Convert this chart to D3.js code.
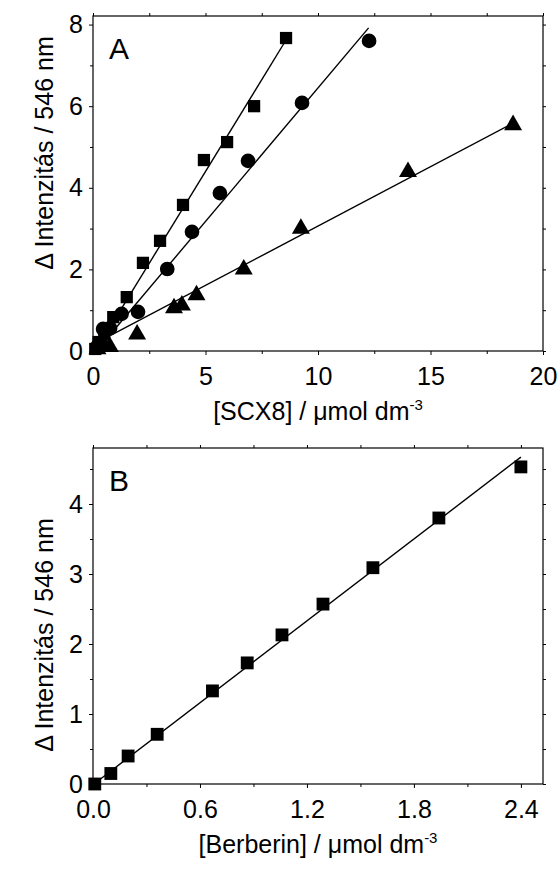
<!DOCTYPE html>
<html>
<head>
<meta charset="utf-8">
<script src="https://cdn.jsdelivr.net/npm/d3@7"></script>
<style>
  body { margin: 0; background: #fff; }
  svg { display: block; }
  text { font-family: "Liberation Sans", Arial, sans-serif; fill: #000; }
</style>
</head>
<body>
<svg id="chart" width="559" height="869"></svg>
<script>
// ---------- Data ----------
// Panel A: [SCX8] (µmol dm^-3) vs Δ Intenzitás
const squaresA = [[0.1,0.05],[0.25,0.22],[0.5,0.42],[0.9,0.83],[1.5,1.32],[2.22,2.16],[2.98,2.70],[4.0,3.58],[4.93,4.68],[5.96,5.12],[7.16,6.0],[8.58,7.67]];
const circlesA = [[0.2,0.12],[0.45,0.54],[0.76,0.56],[1.27,0.91],[2.0,0.96],[3.3,2.01],[4.4,2.92],[5.64,3.87],[6.89,4.66],[9.29,6.08],[12.27,7.6]];
const trianglesA = [[0.2,0.05],[0.5,0.15],[0.75,0.1],[1.96,0.41],[3.6,1.05],[3.95,1.12],[4.6,1.37],[6.7,2.0],[9.24,3.0],[14.0,4.39],[18.67,5.54]];
const fitSquaresA = [[0.1,-0.01],[8.6,7.64]];
const fitCirclesA = [[0.15,0.0],[12.25,7.92]];
const fitTrianglesA = [[0.3,0.24],[18.76,5.61]];
// Panel B: [Berberin] (µmol dm^-3) vs Δ Intenzitás
const squaresB = [[0.01,0.0],[0.1,0.15],[0.197,0.40],[0.36,0.71],[0.67,1.33],[0.865,1.73],[1.06,2.13],[1.29,2.57],[1.57,3.09],[1.94,3.80],[2.40,4.53]];
const fitSquaresB = [[0.0,-0.01],[2.40,4.67]];
// Ticks
const xTicksA = [0,5,10,15,20];
const xMinorA = [2.5,7.5,12.5,17.5];
const yTicksA = [0,2,4,6,8];
const yMinorA = [1,3,5,7];
const xTicksB = [0.0,0.6,1.2,1.8,2.4];
const xMinorB = [0.3,0.9,1.5,2.1];
const yTicksB = [0,1,2,3,4];
const yMinorB = [0.5,1.5,2.5,3.5,4.5];

// ---------- Drawing ----------
const svg = d3.select("#chart");
const left = 93, right = 543;

function panel(cfg) {
  const x = d3.scaleLinear().domain(cfg.xDomain).range([left, right]);
  const y = d3.scaleLinear().domain(cfg.yDomain).range([cfg.bottom, cfg.top]);
  const g = svg.append("g");
  const ht = cfg.bottom - cfg.top, wd = right - left;

  // Axes (bottom with labels)
  const fmtX = cfg.xFmt;
  g.append("g").attr("transform", `translate(0,${cfg.bottom})`)
    .call(d3.axisBottom(x).tickValues(cfg.xTicks).tickFormat(fmtX).tickSize(4).tickPadding(12));
  g.append("g").attr("transform", `translate(0,${cfg.bottom})`)
    .call(d3.axisBottom(x).tickValues(cfg.xMinor).tickFormat("").tickSize(3));
  g.append("g").attr("transform", `translate(0,${cfg.top})`)
    .call(d3.axisTop(x).tickValues(cfg.xTicks.concat(cfg.xMinor)).tickFormat("").tickSize(3));
  g.append("g").attr("transform", `translate(${left},0)`)
    .call(d3.axisLeft(y).tickValues(cfg.yTicks).tickFormat(d3.format("d")).tickSize(4).tickPadding(6));
  g.append("g").attr("transform", `translate(${left},0)`)
    .call(d3.axisLeft(y).tickValues(cfg.yMinor).tickFormat("").tickSize(3));
  g.append("g").attr("transform", `translate(${right},0)`)
    .call(d3.axisRight(y).tickValues(cfg.yTicks.concat(cfg.yMinor)).tickFormat("").tickSize(3));

  g.selectAll(".domain").remove();
  g.selectAll(".tick line").attr("stroke", "#000").attr("stroke-width", 1);
  g.selectAll(".tick text").attr("font-size", 25).attr("font-family", "Liberation Sans, Arial, sans-serif").attr("fill", "#000");

  // frame
  g.append("rect").attr("x", left).attr("y", cfg.top).attr("width", wd).attr("height", ht)
    .attr("fill", "none").attr("stroke", "#000").attr("stroke-width", 1.2);

  // fit lines
  const line = d3.line().x(d => x(d[0])).y(d => y(d[1]));
  cfg.fits.forEach(f => {
    g.append("path").attr("d", line(f)).attr("fill", "none").attr("stroke", "#000").attr("stroke-width", 1.4);
  });

  // markers
  cfg.series.forEach(s => {
    const sym = d3.symbol().type(s.type).size(s.size);
    g.selectAll(null).data(s.data).enter().append("path")
      .attr("d", sym)
      .attr("transform", d => `translate(${x(d[0])},${y(d[1]) + (s.dy || 0)})`)
      .attr("fill", "#000");
  });

  // panel letter
  g.append("text").attr("x", 109).attr("y", cfg.top + cfg.letterDy).attr("font-size", 30).text(cfg.letter);

  // x title
  const xt = g.append("text").attr("x", 318).attr("y", cfg.bottom + 69).attr("text-anchor", "middle").attr("font-size", 25);
  xt.append("tspan").text(cfg.xTitle + " / \u03bcmol dm");
  xt.append("tspan").attr("dy", -10).attr("font-size", 15).text("-3");

  // y title
  g.append("text").attr("transform", `translate(53,${cfg.yTitleY}) rotate(-90)`)
    .attr("text-anchor", "middle").attr("font-size", 25).text("\u0394 Intenzitás / 546 nm");
}

panel({
  top: 16, bottom: 351, xDomain: [0, 20], yDomain: [0, 8.21],
  xTicks: xTicksA, xMinor: xMinorA, yTicks: yTicksA, yMinor: yMinorA,
  xFmt: d3.format("d"),
  fits: [fitSquaresA, fitCirclesA, fitTrianglesA],
  series: [
    {data: squaresA, type: d3.symbolSquare, size: 150},
    {data: circlesA, type: d3.symbolCircle, size: 170},
    {data: trianglesA, type: d3.symbolTriangle, size: 140, dy: 0}
  ],
  letter: "A", letterDy: 43, xTitle: "[SCX8]", yTitleY: 153
});

panel({
  top: 448, bottom: 784, xDomain: [0, 2.524], yDomain: [0, 4.8],
  xTicks: xTicksB, xMinor: xMinorB, yTicks: yTicksB, yMinor: yMinorB,
  xFmt: d3.format(".1f"),
  fits: [fitSquaresB],
  series: [
    {data: squaresB, type: d3.symbolSquare, size: 165}
  ],
  letter: "B", letterDy: 43, xTitle: "[Berberin]", yTitleY: 635
});
</script>
</body>
</html>
